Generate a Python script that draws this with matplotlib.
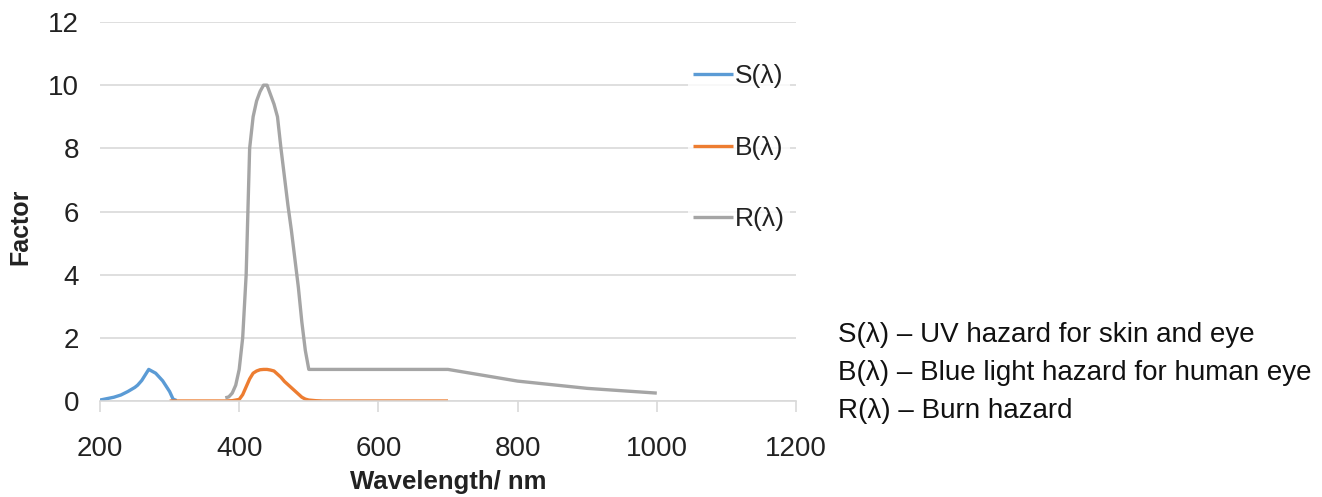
import matplotlib.pyplot as plt

# S(lambda) - UV hazard
s_wl = [200, 210, 220, 230, 240, 250, 254, 260, 270, 280, 290, 300, 305, 310]
s_val = [0.03, 0.075, 0.12, 0.19, 0.30, 0.43, 0.50, 0.65, 1.0, 0.88, 0.64, 0.30, 0.06, 0.015]

# B(lambda) - blue light hazard
b_wl = [300, 380, 390, 400, 405, 410, 415, 420, 425, 430, 435, 440, 445, 450, 455, 460,
        465, 470, 475, 480, 485, 490, 495, 500, 510, 520, 600, 700]
b_val = [0.0, 0.0, 0.01, 0.05, 0.2, 0.45, 0.7, 0.88, 0.95, 0.99, 1.0, 1.0, 0.98,
         0.95, 0.85, 0.75, 0.62, 0.52, 0.42, 0.32, 0.22, 0.12, 0.06, 0.03, 0.01,
         0.0, 0.0, 0.0]

# R(lambda) - burn hazard
r_wl = [380, 385, 390, 395, 400, 405, 410, 415, 420, 425, 430, 435, 440, 445, 450, 455,
        460, 465, 470, 475, 480, 485, 490, 495, 500, 600, 700, 800, 900, 1000]
r_val = [0.1, 0.13, 0.25, 0.5, 1.0, 2.0, 4.0, 8.0, 9.0, 9.5, 9.8, 10.0, 10.0, 9.7, 9.4,
         9.0, 8.0, 7.1, 6.2, 5.4, 4.5, 3.6, 2.5, 1.6, 1.0, 1.0, 1.0, 0.63, 0.40, 0.25]

x_ticks = [200, 400, 600, 800, 1000, 1200]
y_ticks = [0, 2, 4, 6, 8, 10, 12]

notes = ["S(\u03bb) \u2013 UV hazard for skin and eye",
         "B(\u03bb) \u2013 Blue light hazard for human eye",
         "R(\u03bb) \u2013 Burn hazard"]

plt.rcParams['font.family'] = ['Liberation Sans', 'DejaVu Sans']

fig = plt.figure(figsize=(13.22, 4.97), dpi=100)
ax = fig.add_axes([100 / 1322, 1 - 401 / 497, 696 / 1322, 379 / 497])

lw = 2.4
ax.plot(s_wl, s_val, color='#5B9BD5', lw=lw, label='S(\u03bb)', solid_capstyle='butt')
ax.plot(b_wl, b_val, color='#ED7D31', lw=lw, label='B(\u03bb)', solid_capstyle='butt')
ax.plot(r_wl, r_val, color='#A5A5A5', lw=lw, label='R(\u03bb)', solid_capstyle='butt')

ax.set_xlim(200, 1200)
ax.set_ylim(0, 12)
ax.set_xticks(x_ticks)
ax.set_yticks(y_ticks)
ax.grid(axis='y', color='#D9D9D9', lw=1.2)
ax.set_axisbelow(True)
for side in ['top', 'right', 'left']:
    ax.spines[side].set_visible(False)
ax.spines['bottom'].set_color('#D9D9D9')
ax.spines['bottom'].set_linewidth(1.2)

ax.tick_params(axis='y', length=0, pad=15, labelcolor='#222222', labelsize=20)
ax.tick_params(axis='x', length=8, width=1.2, color='#D9D9D9', pad=17,
               labelcolor='#222222', labelsize=20)

ax.set_xlabel('Wavelength/ nm', fontsize=18.5, fontweight='bold', labelpad=6, color='#222222')
ax.set_ylabel('Factor', fontsize=18, fontweight='bold', color='#222222')
ax.yaxis.set_label_coords(-68 / 696, 0.46)

leg = ax.legend(loc='upper left', bbox_to_anchor=(688 / 1322, 1 - 59 / 497),
                bbox_transform=fig.transFigure, frameon=True, fontsize=19,
                handlelength=1.5, handletextpad=0.08, labelspacing=1.8,
                borderpad=0.2, borderaxespad=0)
leg.get_frame().set_facecolor('white')
leg.get_frame().set_edgecolor('none')
for t in leg.get_texts():
    t.set_color('#222222')

for i, line in enumerate(notes):
    fig.text(838 / 1322, 1 - (335 + 38 * i) / 497, line, fontsize=20,
             va='center', ha='left', color='#111111')

fig.savefig('out.png', dpi=100)
